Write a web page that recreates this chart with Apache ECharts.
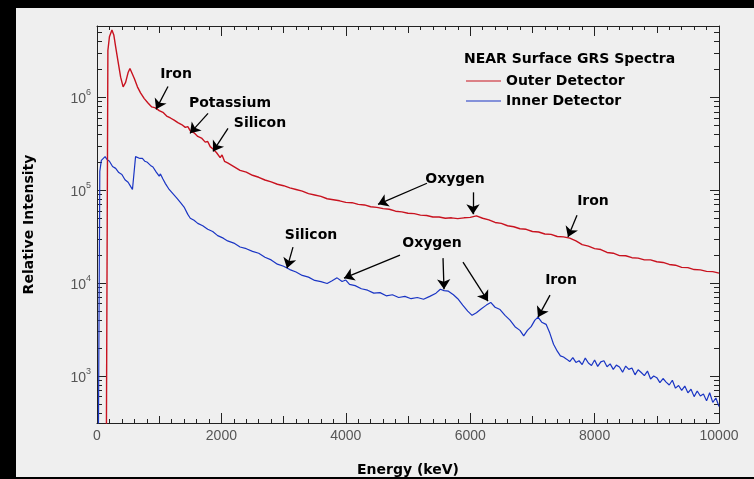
<!DOCTYPE html>
<html>
<head>
<meta charset="utf-8">
<script src="https://cdn.jsdelivr.net/npm/echarts@6/dist/echarts.min.js"></script>
<style>
    html, body { margin: 0; padding: 0; background: #000; }
    #frame { position: absolute; left: 16px; top: 8px; width: 738px; height: 469px; background: #efefef; }
    #chart { position: absolute; left: 0; top: 0; width: 754px; height: 479px; }
</style>
</head>
<body>
<div id="frame"></div>
<div id="chart"></div>
<script>

// outer detector (red), energy in keV / relative intensity
var outerEnergy = [
    150, 175, 200, 240, 270, 300, 340, 380, 420, 460, 500, 530, 560, 600, 650, 700, 760, 820, 880, 940,
    1000, 1060, 1120, 1180, 1240, 1300, 1360, 1420, 1460, 1500, 1560, 1620, 1680, 1740, 1780, 1820, 1860, 1920, 1980, 2010,
    2050, 2100, 2200, 2300, 2400, 2500, 2600, 2700, 2800, 2900, 3000, 3100, 3200, 3300, 3400, 3500, 3600, 3700, 3800, 3900,
    4000, 4100, 4200, 4300, 4400, 4500, 4600, 4700, 4800, 4900, 5000, 5100, 5200, 5300, 5400, 5500, 5600, 5700, 5800, 5900,
    6000, 6100, 6200, 6300, 6400, 6500, 6600, 6700, 6800, 6900, 7000, 7100, 7200, 7300, 7400, 7500, 7600, 7700, 7800, 7900,
    8000, 8100, 8200, 8300, 8400, 8500, 8600, 8700, 8800, 8900, 9000, 9100, 9200, 9300, 9400, 9500, 9600, 9700, 9800, 9900,
    10000
];
var outerCounts = [
    150, 3.2e6, 4.5e6, 5.3e6, 4.7e6, 3.5e6, 2.4e6, 1.65e6, 1.3e6, 1.45e6, 1.85e6, 2.05e6, 2.0e6, 1.6e6, 1.3e6, 1.12e6, 9.7e5, 8.7e5, 7.9e5, 7.7e5,
    7.2e5, 6.9e5, 6.3e5, 6.0e5, 5.7e5, 5.35e5, 5.1e5, 4.75e5, 4.85e5, 4.35e5, 4.15e5, 3.8e5, 3.65e5, 3.3e5, 3.35e5, 2.95e5, 2.8e5, 2.55e5, 2.25e5, 2.4e5,
    2.05e5, 1.97e5, 1.8e5, 1.64e5, 1.57e5, 1.45e5, 1.38e5, 1.29e5, 1.23e5, 1.16e5, 1.12e5, 1.06e5, 1.02e5, 9.8e4, 9.2e4, 8.9e4, 8.6e4, 8.1e4, 7.9e4, 7.7e4,
    7.4e4, 7.35e4, 7.05e4, 6.95e4, 6.65e4, 6.55e4, 6.35e4, 6.25e4, 5.95e4, 5.85e4, 5.65e4, 5.6e4, 5.4e4, 5.35e4, 5.15e4, 5.15e4, 5.0e4, 5.05e4, 4.95e4, 5.05e4,
    5.1e4, 5.3e4, 5.0e4, 4.8e4, 4.5e4, 4.4e4, 4.15e4, 4.05e4, 3.85e4, 3.8e4, 3.6e4, 3.55e4, 3.38e4, 3.35e4, 3.18e4, 3.15e4, 3.05e4, 2.85e4, 2.6e4, 2.5e4,
    2.35e4, 2.3e4, 2.14e4, 2.1e4, 1.98e4, 1.97e4, 1.88e4, 1.86e4, 1.78e4, 1.78e4, 1.7e4, 1.67e4, 1.59e4, 1.56e4, 1.48e4, 1.47e4, 1.4e4, 1.39e4, 1.34e4, 1.33e4,
    1.28e4
];

// inner detector (blue)
var innerEnergy = [
    20, 45, 70, 100, 130, 160, 200, 250, 300, 350, 400, 450, 500, 540, 570, 590, 620, 650, 690, 730,
    770, 810, 860, 900, 950, 1000, 1020, 1060, 1100, 1160, 1220, 1280, 1340, 1400, 1460, 1500, 1560, 1620, 1700, 1780,
    1860, 1940, 2030, 2100, 2200, 2300, 2400, 2500, 2600, 2700, 2800, 2900, 3000, 3100, 3200, 3300, 3400, 3500, 3600, 3700,
    3780, 3860, 3940, 4000, 4060, 4150, 4250, 4350, 4450, 4550, 4650, 4750, 4850, 4950, 5050, 5150, 5250, 5350, 5450, 5520,
    5580, 5650, 5730, 5800, 5880, 5960, 6030, 6100, 6180, 6260, 6330, 6400, 6480, 6560, 6640, 6720, 6800, 6860, 6920, 6980,
    7040, 7090, 7150, 7220, 7280, 7340, 7400, 7450, 7500, 7550, 7600, 7650, 7700, 7750, 7800, 7850, 7900, 7950, 8000, 8050,
    8100, 8150, 8200, 8250, 8300, 8350, 8400, 8450, 8500, 8550, 8600, 8650, 8700, 8750, 8800, 8850, 8900, 8950, 9000, 9050,
    9100, 9150, 9200, 9250, 9300, 9350, 9400, 9450, 9500, 9550, 9600, 9650, 9700, 9750, 9800, 9850, 9900, 9950, 10000
];
var innerCounts = [
    100, 1.6e5, 2.1e5, 2.0e5, 2.3e5, 2.15e5, 2.05e5, 1.8e5, 1.72e5, 1.55e5, 1.48e5, 1.3e5, 1.22e5, 1.1e5, 1.02e5, 1.0e5, 2.3e5, 2.4e5, 2.2e5, 2.2e5,
    2.05e5, 2.0e5, 1.85e5, 1.78e5, 1.58e5, 1.42e5, 1.5e5, 1.32e5, 1.18e5, 1.02e5, 9.2e4, 8.3e4, 7.4e4, 6.6e4, 5.5e4, 5.0e4, 4.75e4, 4.4e4, 4.15e4, 3.8e4,
    3.6e4, 3.25e4, 3.05e4, 2.85e4, 2.7e4, 2.45e4, 2.35e4, 2.2e4, 2.1e4, 1.9e4, 1.78e4, 1.6e4, 1.52e4, 1.4e4, 1.32e4, 1.21e4, 1.16e4, 1.07e4, 1.04e4, 9.9e3,
    1.06e4, 1.14e4, 1.04e4, 1.08e4, 9.7e3, 9.4e3, 8.7e3, 8.4e3, 7.8e3, 7.9e3, 7.3e3, 7.5e3, 7.0e3, 7.2e3, 6.8e3, 7.0e3, 6.7e3, 7.2e3, 7.8e3, 8.6e3,
    8.3e3, 8.2e3, 7.5e3, 6.8e3, 5.8e3, 5.0e3, 4.5e3, 4.8e3, 5.3e3, 5.8e3, 6.2e3, 5.5e3, 5.2e3, 4.5e3, 4.0e3, 3.4e3, 3.1e3, 2.7e3, 3.1e3, 3.4e3,
    4.0e3, 4.3e3, 3.8e3, 3.6e3, 2.9e3, 2.2e3, 1850, 1650, 1600, 1520, 1430, 1580, 1400, 1460, 1330, 1560, 1380, 1300, 1490, 1270,
    1420, 1460, 1260, 1350, 1180, 1310, 1250, 1100, 1280, 1180, 1220, 1030, 1170, 1090, 1010, 1130, 930, 1000, 960, 850,
    940, 860, 800, 900, 740, 790, 700, 780, 660, 720, 600, 690, 610, 640, 540, 660, 520, 580, 470
];

var xTicksMid = [1000, 3000, 5000, 7000, 9000];
var yTicksMajor = [1e3, 1e4, 1e5, 1e6];
var yTicksMinor = [
    400, 500, 600, 700, 800, 900,
    2e3, 3e3, 4e3, 5e3, 6e3, 7e3, 8e3, 9e3,
    2e4, 3e4, 4e4, 5e4, 6e4, 7e4, 8e4, 9e4,
    2e5, 3e5, 4e5, 5e5, 6e5, 7e5, 8e5, 9e5,
    2e6, 3e6, 4e6, 5e6
];

// annotations: [text, energy, intensity]
var outerNotes = [
    ['Iron', 1270, 1.77e6], ['Potassium', 2138, 8.6e5], ['Silicon', 2621, 5.25e5],
    ['Oxygen', 5756, 1.3e5], ['Iron', 7974, 7.6e4]
];
var innerNotes = [
    ['Silicon', 3441, 3.3e4], ['Oxygen', 5386, 2.65e4], ['Iron', 7460, 1.08e4]
];
// arrows: [fromEnergy, fromIntensity, toEnergy, toIntensity]
var outerArrows = [
    [1141, 1.31e6, 949, 7.43e5], [1785, 6.73e5, 1495, 4.1e5], [2106, 4.64e5, 1865, 2.62e5],
    [5305, 1.19e5, 4518, 7.06e4], [6045, 9.5e4, 6045, 5.52e4], [7717, 5.38e4, 7572, 3.13e4]
];
var innerArrows = [
    [3151, 2.44e4, 3055, 1.45e4], [4871, 2.0e4, 3971, 1.13e4], [5563, 1.86e4, 5579, 8.6e3],
    [5884, 1.68e4, 6286, 6.4e3], [7283, 7.43e3, 7090, 4.3e3]
];


var chart = echarts.init(document.getElementById('chart'));

var boldFont = 'DejaVu Sans';
var tickFont = 'Liberation Sans';
var axisColor = '#222';
var yMin = 312;
var yMax = 5.87e6;

function zip(xs, ys) {
    return xs.map(function (x, i) {
        return [x, ys[i]];
    });
}

function notePoints(notes) {
    return notes.map(function (n) {
        return {
            coord: [n[1], n[2]],
            value: n[0]
        };
    });
}

function arrowLines(arrows) {
    return arrows.map(function (a) {
        return [{coord: [a[0], a[1]]}, {coord: [a[2], a[3]]}];
    });
}

function markers(notes, arrows) {
    return {
        markPoint: {
            silent: true,
            symbol: 'circle',
            symbolSize: 0,
            data: notePoints(notes),
            label: {
                show: true,
                position: 'inside',
                formatter: '{c}',
                color: '#000',
                fontFamily: boldFont,
                fontWeight: 'bold',
                fontSize: 14
            }
        },
        markLine: {
            silent: true,
            symbol: ['none', 'arrow'],
            symbolSize: 10,
            label: {show: false},
            lineStyle: {color: '#000', width: 1.3, type: 'solid'},
            itemStyle: {color: '#000'},
            emphasis: {disabled: true},
            animation: false,
            data: arrowLines(arrows)
        }
    };
}

function xAxisOf(position, main) {
    return {
        type: 'value',
        position: position,
        min: 0,
        max: 10000,
        interval: 2000,
        axisLine: {show: true, onZero: false, lineStyle: {color: axisColor, width: 1}},
        axisTick: {show: true, inside: true, length: 10, lineStyle: {color: axisColor}},
        minorTick: {show: true, splitNumber: 10, length: 4, lineStyle: {color: axisColor}},
        splitLine: {show: false},
        axisLabel: {
            show: main,
            margin: 6,
            color: '#555',
            fontFamily: tickFont,
            fontSize: 14,
            formatter: function (v) {
                return String(v);
            }
        },
        name: main ? 'Energy (keV)' : '',
        nameLocation: 'middle',
        nameGap: 40,
        nameTextStyle: {color: '#000', fontFamily: boldFont, fontWeight: 'bold', fontSize: 14}
    };
}

function xMidAxis(position) {
    return {
        type: 'value',
        position: position,
        min: 0,
        max: 10000,
        axisLine: {show: false, onZero: false},
        axisTick: {show: true, inside: true, length: 7, customValues: xTicksMid, lineStyle: {color: axisColor}},
        splitLine: {show: false},
        axisLabel: {show: false}
    };
}

function yAxisOf(position, ticks, len, main) {
    return {
        type: 'log',
        logBase: 10,
        position: position,
        min: yMin,
        max: yMax,
        axisLine: {show: !!main || len > 6, onZero: false, lineStyle: {color: axisColor, width: 1}},
        axisTick: {show: true, inside: true, length: len, customValues: ticks, lineStyle: {color: axisColor}},
        splitLine: {show: false},
        axisLabel: {
            show: !!main,
            customValues: yTicksMajor,
            margin: 6,
            formatter: function (v) {
                return '{b|10}{s|' + Math.round(Math.log(v) / Math.LN10) + '}';
            },
            rich: {
                b: {color: '#555', fontFamily: tickFont, fontSize: 14, lineHeight: 18, padding: [4, 0, 0, 0]},
                s: {color: '#555', fontFamily: tickFont, fontSize: 9, verticalAlign: 'top', lineHeight: 10}
            }
        },
        name: main ? 'Relative Intensity' : '',
        nameLocation: 'middle',
        nameGap: 61,
        nameTextStyle: {color: '#000', fontFamily: boldFont, fontWeight: 'bold', fontSize: 14}
    };
}

var option = {
    backgroundColor: 'transparent',
    animation: false,
    grid: {left: 97, right: 35, top: 26, bottom: 56, containLabel: false, outerBoundsMode: 'none'},
    title: {
        text: 'NEAR Surface GRS Spectra',
        left: 459,
        top: 47,
        textStyle: {color: '#000', fontFamily: boldFont, fontWeight: 'bold', fontSize: 14}
    },
    legend: {
        data: ['Outer Detector', 'Inner Detector'],
        orient: 'vertical',
        left: 461,
        top: 69,
        itemGap: 6,
        itemWidth: 35,
        itemHeight: 1,
        icon: 'rect',
        selectedMode: false,
        textStyle: {color: '#000', fontFamily: boldFont, fontWeight: 'bold', fontSize: 14}
    },
    xAxis: [xAxisOf('bottom', true), xMidAxis('bottom'), xAxisOf('top', false), xMidAxis('top')],
    yAxis: [
        yAxisOf('left', yTicksMajor, 9, true),
        yAxisOf('left', yTicksMinor, 5, false),
        yAxisOf('right', yTicksMajor, 9, false),
        yAxisOf('right', yTicksMinor, 5, false)
    ],
    series: [
        Object.assign({
            name: 'Inner Detector',
            type: 'line',
            xAxisIndex: 0,
            yAxisIndex: 0,
            symbol: 'none',
            showSymbol: false,
            clip: true,
            color: '#1a35c4',
            lineStyle: {width: 1.2, color: '#1a35c4'},
            data: zip(innerEnergy, innerCounts)
        }, markers(innerNotes, innerArrows)),
        Object.assign({
            name: 'Outer Detector',
            type: 'line',
            xAxisIndex: 0,
            yAxisIndex: 0,
            symbol: 'none',
            showSymbol: false,
            clip: true,
            color: '#c8121f',
            lineStyle: {width: 1.4, color: '#c8121f'},
            data: zip(outerEnergy, outerCounts)
        }, markers(outerNotes, outerArrows))
    ]
};

chart.setOption(option);

</script>
</body>
</html>
